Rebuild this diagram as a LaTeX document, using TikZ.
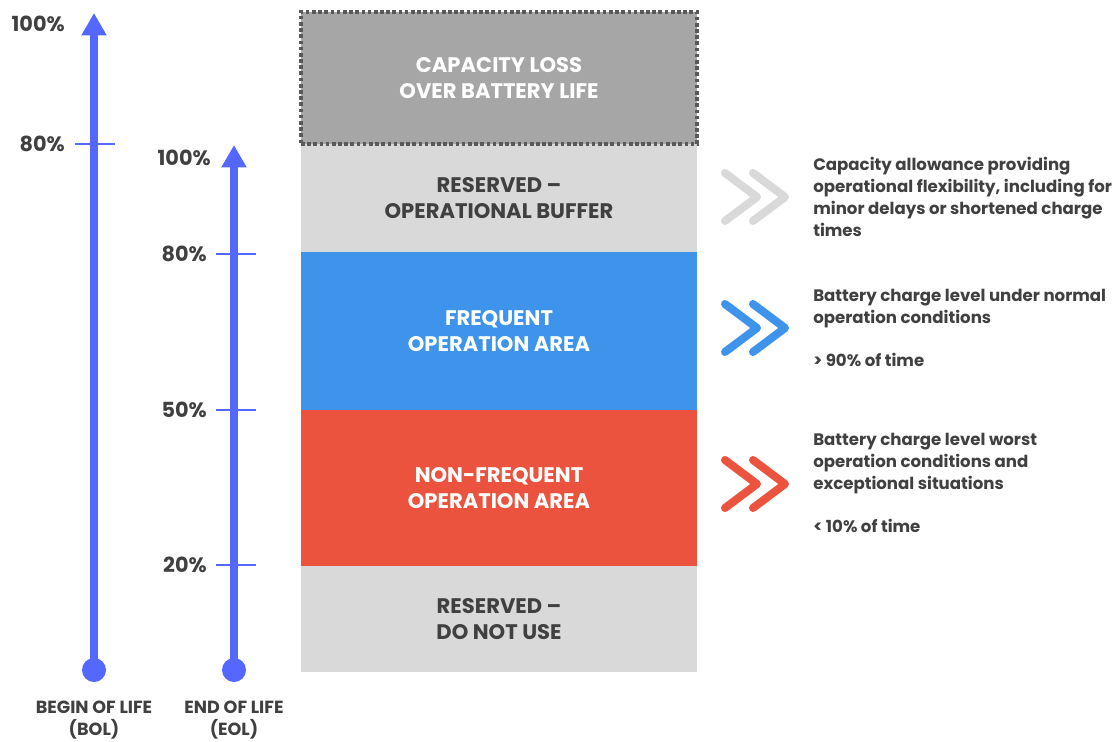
\documentclass[tikz,border=0pt]{standalone}
\usepackage{fontspec}
\setmainfont{Poppins}
\usetikzlibrary{arrows.meta,positioning}
\definecolor{axisblue}{RGB}{84,104,255}
\definecolor{freqblue}{RGB}{61,148,234}
\definecolor{nfred}{RGB}{235,83,63}
\definecolor{lightgray}{RGB}{217,217,217}
\definecolor{lossgray}{RGB}{166,166,166}
\definecolor{dotgray}{RGB}{89,89,89}
\definecolor{txtgray}{RGB}{64,64,64}

\begin{document}
\begin{tikzpicture}[x=0.025cm, y=-0.025cm, every node/.style={font=\bfseries, text=txtgray},
  zone/.style={minimum width=9.9cm, outer sep=0pt, inner sep=0pt, align=center, font=\bfseries\fontsize{15}{18.8}\selectfont},
  axis/.style={line width=5.7pt, axisblue, -{Triangle[width=17pt,length=16pt]}},
  dot/.style={circle, fill=axisblue, minimum size=0.6cm, inner sep=0pt},
  tick/.style={line width=1.4pt, axisblue},
  pct/.style={anchor=east, inner sep=0pt, font=\bfseries\fontsize{14.8}{16}\selectfont},
  life/.style={align=center, inner sep=0pt, font=\bfseries\fontsize{12.5}{15.6}\selectfont},
  note/.style={anchor=west, inner sep=0pt, align=left, font=\bfseries\fontsize{11.8}{15.6}\selectfont},
  chev/.style={line width=5.7pt, line cap=round, line join=round}]
\useasboundingbox (0,0) rectangle (1120,742);

% zones
\node[zone, fill=lightgray, minimum height=2.7cm] (buffer) at (499,198) {RESERVED --\\OPERATIONAL BUFFER};
\node[zone, fill=freqblue, text=white, minimum height=3.95cm, below=0pt of buffer] (freq) {FREQUENT\\OPERATION AREA};
\node[zone, fill=nfred, text=white, minimum height=3.9cm, below=0pt of freq] (nonfreq) {NON-FREQUENT\\OPERATION AREA};
\node[zone, fill=lightgray, minimum height=2.65cm, below=0pt of nonfreq] (donot) {RESERVED --\\DO NOT USE};
\node[zone, fill=lossgray, text=white, minimum height=3.3cm, draw=dotgray, line width=2.8pt, dash pattern=on 2.6pt off 1.8pt, above=0pt of buffer] (loss) {CAPACITY LOSS\\OVER BATTERY LIFE};

% begin of life axis
\node[dot] (bolBase) at (94,670) {};
\coordinate (bolTop) at (94,13);
\draw[axis] (bolBase.center) -- (bolTop);
\draw[tick] (75,144) -- (115,144);
\node[pct] (bol100) at (65,24) {100\%};
\node[pct] (bol80) at (65,144) {80\%};
\node[life] (bolLabel) at (94,720) {BEGIN OF LIFE\\(BOL)};

% end of life axis
\node[dot] (eolBase) at (234,670) {};
\coordinate (eolTop) at (234,145);
\draw[axis] (eolBase.center) -- (eolTop);
\node[pct] (eol100) at (211,158) {100\%};
\foreach \y/\p in {254/80,410/50,565/20} {
  \draw[tick] (216,\y) -- (256,\y);
  \node[pct] (eol\p) at (207,\y) {\p\%};
}
\node[life] (eolLabel) at (234,720) {END OF LIFE\\(EOL)};

% chevrons
\foreach \y/\c in {197/lightgray,328/freqblue,484/nfred}
  \foreach \dx in {0,28}
    \draw[chev, \c] (725+\dx,\y-24) -- (757+\dx,\y) -- (725+\dx,\y+24);

% notes
\node[note] (bufferNote) at (813,197) {Capacity allowance providing\\operational flexibility, including for\\minor delays or shortened charge\\times};
\node[note] (freqNote) at (813,328) {Battery charge level under normal\\operation conditions\\[\baselineskip]> 90\% of time};
\node[note] (nonfreqNote) at (813,483) {Battery charge level worst\\operation conditions and\\exceptional situations\\[\baselineskip]< 10\% of time};
\end{tikzpicture}
\end{document}
